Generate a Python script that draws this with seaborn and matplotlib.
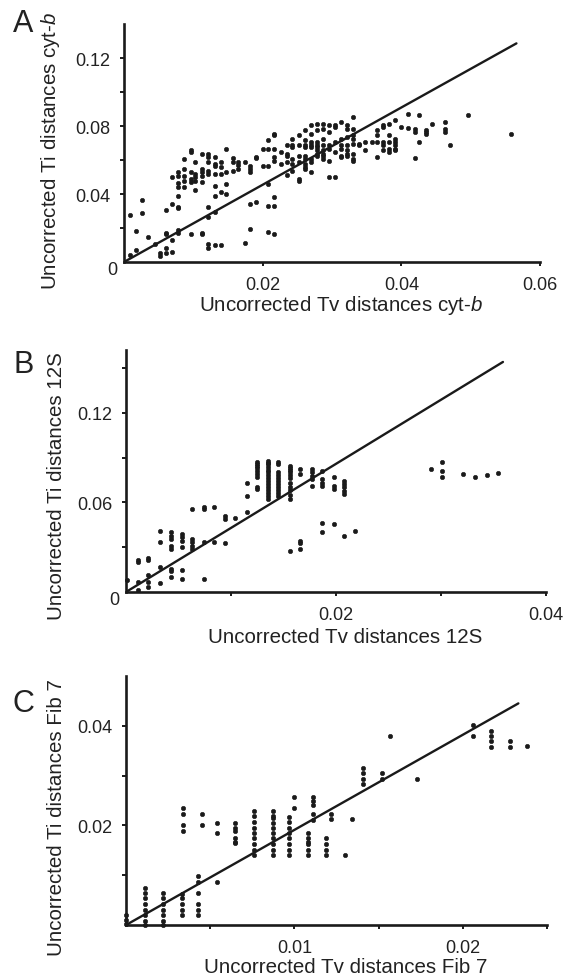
import matplotlib
matplotlib.use("Agg")
import matplotlib.pyplot as plt
import seaborn as sns
import pandas as pd

# ---------------- data ----------------
# Panel A: cyt-b  (columns of Tv value -> list of Ti values)
a_tv = [0.0008, 0.0017, 0.0026, 0.0035, 0.0044, 0.0052, 0.0060, 0.0069, 0.0078, 0.0086,
        0.0096, 0.0103, 0.0113, 0.0121, 0.0131, 0.0140, 0.0147, 0.0157, 0.0165, 0.0174,
        0.0182, 0.0191, 0.0201, 0.0208, 0.0217, 0.0226, 0.0235, 0.0243, 0.0252, 0.0261,
        0.0269, 0.0278, 0.0287, 0.0296, 0.0305, 0.0313, 0.0322, 0.0331, 0.0339, 0.0348,
        0.0357, 0.0365, 0.0374, 0.0382, 0.0391, 0.0400, 0.0409, 0.0419, 0.0426, 0.0436,
        0.0444, 0.0463, 0.0470, 0.0496, 0.0558]
a_ti = [[0.0276, 0.0039], [0.0183, 0.0071], [0.0364, 0.0286], [0.0146], [0.0108],
        [0.0051, 0.0035], [0.0307, 0.0173, 0.0162, 0.0085, 0.0055], [0.0498, 0.0341, 0.013, 0.0061],
        [0.0528, 0.0508, 0.0463, 0.0439, 0.039, 0.0321, 0.0315, 0.0187, 0.0173],
        [0.0607, 0.0548, 0.0508, 0.0479, 0.0439],
        [0.0656, 0.0646, 0.0528, 0.0489, 0.0469, 0.0167],
        [0.0587, 0.0518, 0.0498, 0.0479, 0.0424],
        [0.0636, 0.0548, 0.0528, 0.0508, 0.0473, 0.0173, 0.0167],
        [0.0636, 0.0617, 0.0587, 0.0538, 0.0518, 0.0321, 0.0262, 0.0104, 0.0085],
        [0.0617, 0.0577, 0.0567, 0.0518, 0.0449, 0.039, 0.0296, 0.01],
        [0.0587, 0.0558, 0.0518, 0.041, 0.01],
        [0.0666, 0.0528, 0.0459, 0.04],
        [0.0611, 0.0587, 0.0538], [0.0587, 0.0571, 0.0548], [0.0587, 0.0114],
        [0.0567, 0.0548, 0.0528, 0.0341, 0.0193], [0.0617, 0.0611, 0.0351], [0.0666, 0.0567],
        [0.0715, 0.0666, 0.0567, 0.0459, 0.0331, 0.0177],
        [0.0755, 0.0745, 0.0666, 0.0617, 0.0597, 0.0384, 0.0331, 0.0167],
        [0.0646, 0.0577],
        [0.0686, 0.0636, 0.0626, 0.0587, 0.0514],
        [0.0725, 0.0686, 0.0676, 0.0607, 0.0577, 0.0538],
        [0.0745, 0.0686, 0.0626, 0.0587, 0.0489, 0.0479],
        [0.0774, 0.0715, 0.0686, 0.0676, 0.0626, 0.0607, 0.0577, 0.0558, 0.0548],
        [0.0804, 0.0755, 0.0705, 0.0686, 0.0676, 0.0607, 0.0587, 0.0532],
        [0.0814, 0.0774, 0.0705, 0.0686, 0.0676, 0.0656, 0.0636, 0.0626],
        [0.0814, 0.0784, 0.0725, 0.0686, 0.0656, 0.0636, 0.0626, 0.0607],
        [0.0804, 0.0764, 0.0686, 0.0666, 0.0593, 0.0498],
        [0.0804, 0.0794, 0.0705, 0.0646, 0.0498],
        [0.0823, 0.0725, 0.0686, 0.0666, 0.0626, 0.0617],
        [0.0804, 0.0784, 0.0735, 0.0686, 0.0656, 0.0636, 0.0626],
        [0.0853, 0.0784, 0.0745, 0.0725, 0.0695, 0.0636, 0.0607, 0.0597],
        [0.0695, 0.0686], [0.0705, 0.0656], [0.0705],
        [0.0774, 0.0745, 0.0705, 0.0617],
        [0.0804, 0.0794, 0.0705, 0.0686, 0.0656],
        [0.0814, 0.0745, 0.0705, 0.0666, 0.0646],
        [0.0833, 0.0725, 0.0705, 0.0686, 0.0666, 0.0656],
        [0.0794], [0.0873, 0.0788], [0.0784, 0.0764, 0.0611], [0.0867, 0.0705],
        [0.0774, 0.0764, 0.0755], [0.0814], [0.0823, 0.0784, 0.0764], [0.0691],
        [0.0867], [0.0755]]

# Panel B: 12S
b_tv = [0.0001, 0.0011, 0.0021, 0.0032, 0.0043, 0.0053, 0.0063, 0.0074, 0.0084, 0.0094,
        0.0104, 0.0115, 0.0125, 0.0135, 0.0145, 0.0156, 0.0166, 0.0177, 0.0187, 0.0198,
        0.0208, 0.0218, 0.0290, 0.0301, 0.0321, 0.0332, 0.0344, 0.0354]
b_ti = [[0.0078], [0.0211, 0.02, 0.0067, 0.0011], [0.0227, 0.0211, 0.0111, 0.0067, 0.0033],
        [0.0411, 0.0333, 0.0167, 0.0062],
        [0.04, 0.0378, 0.0356, 0.0311, 0.0289, 0.0156, 0.014, 0.01],
        [0.0389, 0.0367, 0.0344, 0.03, 0.0144, 0.0089],
        [0.0556, 0.0356, 0.0333, 0.0311, 0.0289],
        [0.0567, 0.0556, 0.0333, 0.0089], [0.0571, 0.0333], [0.0511, 0.0489, 0.0327],
        [0.0496], [0.0733, 0.0644, 0.0533],
        [0.0867, 0.0856, 0.0844, 0.083, 0.081, 0.079, 0.077, 0.07, 0.069],
        [0.0878, 0.0866, 0.0855, 0.084, 0.082, 0.08, 0.078, 0.076, 0.074, 0.072, 0.07,
         0.068, 0.066, 0.064, 0.062],
        [0.0867, 0.0855, 0.08, 0.078, 0.076, 0.074, 0.072, 0.07, 0.068, 0.066, 0.064],
        [0.0844, 0.083, 0.082, 0.08, 0.078, 0.076, 0.073, 0.07, 0.068, 0.065, 0.062, 0.0273],
        [0.0822, 0.0789, 0.0344, 0.0329, 0.0289],
        [0.0822, 0.08, 0.0778, 0.0756, 0.0711],
        [0.0811, 0.0756, 0.0733, 0.0711, 0.0462, 0.04],
        [0.0773, 0.0711, 0.0689, 0.0456],
        [0.0744, 0.0722, 0.07, 0.0678, 0.0656, 0.0378],
        [0.0411], [0.0822], [0.0871, 0.0811, 0.0767], [0.0789], [0.0773], [0.0784], [0.0796]]

# Panel C: Fib 7
c_tv = [0.0, 0.0011, 0.0022, 0.0033, 0.0034, 0.0043, 0.0045, 0.0054, 0.0065, 0.0076,
        0.0087, 0.0097, 0.0100, 0.0108, 0.0111, 0.0119, 0.0122, 0.0130, 0.0134, 0.0141,
        0.0152, 0.0157, 0.0173, 0.0206, 0.0217, 0.0228, 0.0238]
c_ti = [[0.002, 0.001, 0.0002],
        [0.0075, 0.0065, 0.0054, 0.0042, 0.0031, 0.002, 0.0009, 0.0],
        [0.0065, 0.0054, 0.0042, 0.0031, 0.002, 0.0009, 0.0],
        [0.0063, 0.0054, 0.0042, 0.0031, 0.002],
        [0.0234, 0.0223, 0.0201, 0.0189],
        [0.0098, 0.0086, 0.0064, 0.0042, 0.0031, 0.002],
        [0.0223, 0.0201],
        [0.0205, 0.0184, 0.0086],
        [0.0205, 0.0195, 0.0189, 0.0175, 0.0167, 0.0164],
        [0.0228, 0.0218, 0.0206, 0.0195, 0.0184, 0.0174, 0.0162, 0.015, 0.014],
        [0.0228, 0.0218, 0.0214, 0.0204, 0.0195, 0.0184, 0.0174, 0.0162, 0.015, 0.014],
        [0.0216, 0.0206, 0.0195, 0.0184, 0.0174, 0.0162, 0.015, 0.014],
        [0.0257, 0.0234],
        [0.0184, 0.0174, 0.0167, 0.0162, 0.015, 0.014],
        [0.0257, 0.0248, 0.0241, 0.0223, 0.0211],
        [0.0174, 0.0162, 0.015, 0.014],
        [0.0223, 0.0212], [0.014], [0.0212],
        [0.0315, 0.0305, 0.0294, 0.0283], [0.0305, 0.0294], [0.038], [0.0294],
        [0.0401, 0.0379], [0.039, 0.0379, 0.0369, 0.0358], [0.0369, 0.0358], [0.0359]]

# Reference lines (Ti = Tv * slope), end points
line_a_x = [0.0, 0.0566]
line_a_y = [0.0, 0.1286]
line_b_x = [0.0, 0.0359]
line_b_y = [0.0, 0.1540]
line_c_x = [0.0, 0.0233]
line_c_y = [0.0, 0.0445]

# Tick labels
a_xticks = [0.02, 0.04, 0.06]
a_xlabels = ["0.02", "0.04", "0.06"]
a_yticks = [0.04, 0.08, 0.12]
a_ylabels = ["0.04", "0.08", "0.12"]
b_xticks = [0.02, 0.04]
b_xlabels = ["0.02", "0.04"]
b_yticks = [0.06, 0.12]
b_ylabels = ["0.06", "0.12"]
c_xticks = [0.01, 0.02]
c_xlabels = ["0.01", "0.02"]
c_yticks = [0.02, 0.04]
c_ylabels = ["0.02", "0.04"]

# ---------------- style ----------------
sns.set_theme(style="ticks")
plt.rcParams["font.family"] = ["Liberation Sans", "DejaVu Sans"]
plt.rcParams["mathtext.fontset"] = "custom"
plt.rcParams["mathtext.it"] = "Liberation Sans:italic"
plt.rcParams["mathtext.rm"] = "Liberation Sans"
INK = "#1a1a1a"
TXT = "#222222"

W, H = 563, 979
fig = plt.figure(figsize=(W / 100, H / 100), dpi=100)


def frame(left, right, top, bottom):
    return [left / W, 1 - bottom / H, (right - left) / W, (bottom - top) / H]


def flat(tv, ti):
    xs = [x for x, ys in zip(tv, ti) for _ in ys]
    ys = [y for col in ti for y in col]
    return pd.DataFrame({"tv": xs, "ti": ys})


panels = [
    dict(rect=frame(124, 540, 25, 263), tv=a_tv, ti=a_ti, lx=line_a_x, ly=line_a_y,
         xlim=(0, 0.06), ylim=(0, 0.14), xt=a_xticks, xl=a_xlabels, yt=a_yticks, yl=a_ylabels,
         xminor=[], yminor=[0.02, 0.06, 0.10], zero=True,
         xlabel="Uncorrected Tv distances cyt-$b$", ylabel="Uncorrected Ti distances cyt-$b$",
         letter="A", letter_y=32, xlab_y=-0.13, ylab=(-0.148, 0.47)),
    dict(rect=frame(126, 546, 351, 593), tv=b_tv, ti=b_ti, lx=line_b_x, ly=line_b_y,
         xlim=(0, 0.04), ylim=(0, 0.162), xt=b_xticks, xl=b_xlabels, yt=b_yticks, yl=b_ylabels,
         xminor=[0.01, 0.03], yminor=[0.03, 0.09, 0.15], zero=True,
         xlabel="Uncorrected Tv distances 12S", ylabel="Uncorrected Ti distances 12S",
         letter="B", letter_y=373, xlab_y=-0.145, ylab=(-0.143, 0.44)),
    dict(rect=frame(126, 547, 677, 926), tv=c_tv, ti=c_ti, lx=line_c_x, ly=line_c_y,
         xlim=(0, 0.025), ylim=(0, 0.050), xt=c_xticks, xl=c_xlabels, yt=c_yticks, yl=c_ylabels,
         xminor=[0.005, 0.015, 0.025], yminor=[0.01, 0.03], zero=False,
         xlabel="Uncorrected Tv distances Fib 7", ylabel="Uncorrected Ti distances Fib 7",
         letter="C", letter_y=712, xlab_y=-0.13, ylab=(-0.143, 0.434)),
]

for p in panels:
    ax = fig.add_axes(p["rect"])
    df = flat(p["tv"], p["ti"])
    sns.scatterplot(data=df, x="tv", y="ti", ax=ax, color=INK, marker="o", s=10,
                    linewidth=0.4, edgecolor=INK, clip_on=False, legend=False)
    sns.lineplot(x=p["lx"], y=p["ly"], ax=ax, color=INK, linewidth=1.7)
    ax.set_xlim(*p["xlim"])
    ax.set_ylim(*p["ylim"])
    ax.set_xticks(p["xt"], p["xl"])
    ax.set_yticks(p["yt"], p["yl"])
    ax.set_xticks(p["xminor"], minor=True)
    ax.set_yticks(p["yminor"], minor=True)
    for s in ["top", "right"]:
        ax.spines[s].set_visible(False)
    for s in ["left", "bottom"]:
        ax.spines[s].set_linewidth(1.9)
        ax.spines[s].set_color(INK)
    ax.tick_params(which="both", direction="out", length=3, width=1.4, color=INK,
                   labelsize=13, labelcolor=TXT, pad=7)
    ax.set_xlabel(p["xlabel"], fontsize=14.8, color=TXT)
    ax.set_ylabel(p["ylabel"], fontsize=14.8, color=TXT)
    ax.xaxis.set_label_coords(0.521, p["xlab_y"])
    ax.yaxis.set_label_coords(*p["ylab"])
    if p["zero"]:
        ax.annotate("0", xy=(0, 0), xycoords="data", xytext=(-8.5, -5.5),
                    textcoords="offset points", ha="center", va="center",
                    fontsize=13, color=TXT)
    fig.text(13 / W, 1 - p["letter_y"] / H, p["letter"], fontsize=22, color=TXT,
             ha="left", va="baseline")

fig.savefig("out.png", dpi=100)
